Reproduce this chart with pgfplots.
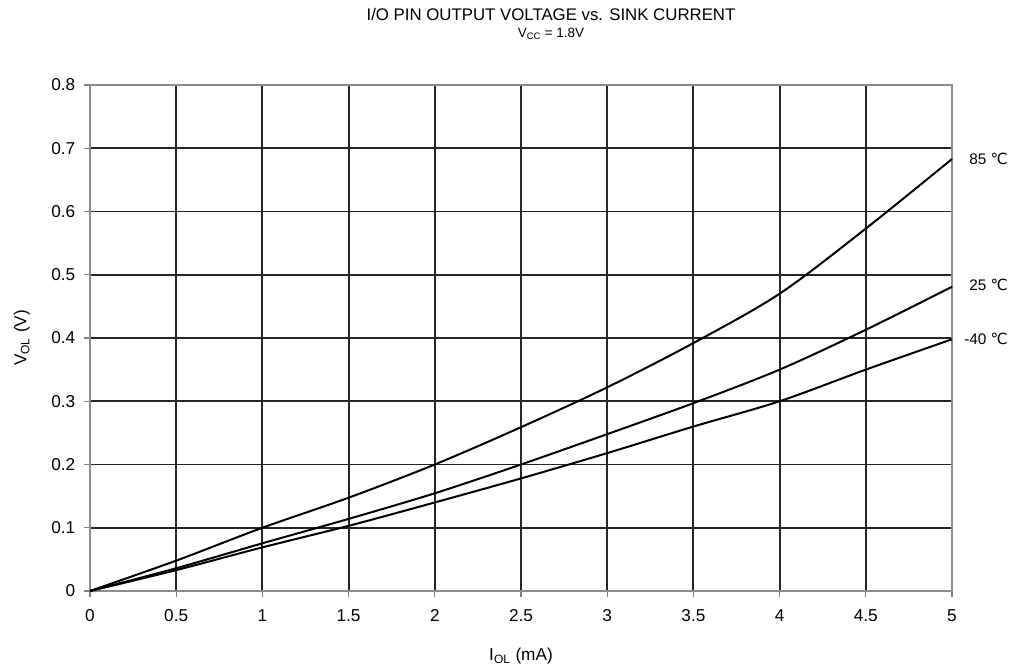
\documentclass[border=0pt]{standalone}
\usepackage{pgfplots}
\pgfplotsset{compat=1.18}
\usepackage{fontspec}
\setmainfont{Liberation Sans}
\newfontfamily\dejavu{DejaVu Sans}
\usetikzlibrary{calc}
\begin{document}
\begin{tikzpicture}
\useasboundingbox (0pt,0pt) rectangle (765.75pt,502.5pt);
\begin{axis}[
  at={(67.5pt,59.25pt)}, anchor=south west,
  scale only axis, width=646.5pt, height=379.5pt,
  xmin=0, xmax=5, ymin=0, ymax=0.8,
  xtick={0,0.5,1,1.5,2,2.5,3,3.5,4,4.5,5},
  ytick={0,0.1,0.2,0.3,0.4,0.5,0.6,0.7,0.8},
  yticklabels={0,0.1,0.2,0.3,0.4,0.5,0.6,0.7,0.8},
  xticklabels={0,0.5,1,1.5,2,2.5,3,3.5,4,4.5,5},
  grid=major,
  major grid style={black!85, line width=1.45pt},
  axis line style={black!45, line width=1.2pt},
  tick style={black!50, line width=0.8pt},
  tick align=outside, tick pos=left, major tick length=4.5pt,
  tick label style={font=\fontsize{12.9}{15}\selectfont},
  xticklabel style={yshift=-6pt},
  yticklabel style={xshift=-3pt},
  /pgf/number format/assume math mode=true,
  xlabel={I\textsubscript{OL} (mA)},
  ylabel={V\textsubscript{OL} (V)},
  label style={font=\fontsize{12.9}{15}\selectfont},
  xlabel style={at={(rel axis cs:0.5,0)}, anchor=base, yshift=-52.5pt},
  ylabel style={at={($(rel axis cs:0,0.5)+(-51pt,0pt)$)}, anchor=center},
  clip=false,
]
\addplot[black, line width=1.5pt, smooth, tension=0.5] coordinates {
 (0,0) (0.5,0.048) (1,0.1) (1.5,0.1475) (2,0.2) (2.5,0.259) (3,0.322) (3.5,0.392) (4,0.470) (4.5,0.573) (5,0.683)};
\addplot[black, line width=1.5pt, smooth, tension=0.5] coordinates {
 (0,0) (0.5,0.036) (1,0.0754) (1.5,0.114) (2,0.1545) (2.5,0.2) (3,0.248) (3.5,0.297) (4,0.350) (4.5,0.413) (5,0.481)};
\addplot[black, line width=1.5pt, smooth, tension=0.5] coordinates {
 (0,0) (0.5,0.033) (1,0.069) (1.5,0.103) (2,0.14) (2.5,0.178) (3,0.218) (3.5,0.26) (4,0.300) (4.5,0.350) (5,0.398)};
\node[anchor=west, xshift=12.75pt, font=\fontsize{11.5}{13}\selectfont, inner sep=0pt] at (axis cs:5,0.683) {85 {\dejavu ℃}};
\node[anchor=west, xshift=12.75pt, font=\fontsize{11.5}{13}\selectfont, inner sep=0pt] at (axis cs:5,0.484) {25 {\dejavu ℃}};
\node[anchor=west, xshift=9pt, font=\fontsize{11.5}{13}\selectfont, inner sep=0pt] at (axis cs:5,0.398) {-40 {\dejavu ℃}};
\end{axis}
\node[anchor=base, font=\fontsize{12.6}{15}\selectfont] at (413.25pt,486.75pt) {I/O PIN OUTPUT VOLTAGE vs. SINK CURRENT};
\node[anchor=base, font=\fontsize{10.1}{12}\selectfont] at (413.25pt,474pt) {V\textsubscript{CC} = 1.8V};
\end{tikzpicture}
\end{document}
